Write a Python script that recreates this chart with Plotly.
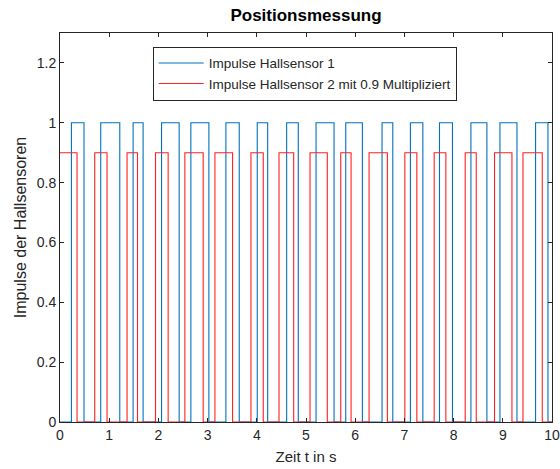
import plotly.graph_objects as go

# Switching times (s) of the sensor pulses
blue_edges = [0.232, 0.488, 0.828, 1.215, 1.486, 1.689, 2.064, 2.422, 2.660, 3.026,
              3.372, 3.643, 4.009, 4.221, 4.607, 4.843, 5.204, 5.570, 5.808, 6.146,
              6.546, 6.764, 7.122, 7.375, 7.713, 7.977, 8.352, 8.677, 8.942, 9.288,
              9.666, 9.918]
blue_start_level = 0
red_edges = [0.346, 0.706, 0.956, 1.363, 1.575, 1.941, 2.198, 2.538, 2.910, 3.149,
             3.508, 3.881, 4.131, 4.451, 4.750, 5.082, 5.433, 5.706, 5.916, 6.282,
             6.654, 7.009, 7.253, 7.605, 7.843, 8.236, 8.460, 8.832, 9.186, 9.410,
             9.802]
red_start_level = 1
red_factor = 0.9
t_start, t_end = 0, 10

x_ticks = [0, 1, 2, 3, 4, 5, 6, 7, 8, 9, 10]
y_ticks = [0, 0.2, 0.4, 0.6, 0.8, 1, 1.2]
y_tick_labels = ["0", "0.2", "0.4", "0.6", "0.8", "1", "1.2"]


def build_steps(edges, start_level):
    xs = [t_start]
    ys = [start_level]
    level = start_level
    for e in edges:
        level = 1 - level
        xs.append(e)
        ys.append(level)
    xs.append(t_end)
    ys.append(level)
    return xs, ys


bx, by = build_steps(blue_edges, blue_start_level)
rx, ry = build_steps(red_edges, red_start_level)
ry = [v * red_factor for v in ry]

fig = go.Figure()
fig.add_trace(go.Scatter(x=bx, y=by, mode="lines", line_shape="hv",
                         line=dict(color="#0072BD", width=1.1),
                         name="Impulse Hallsensor 1"))
fig.add_trace(go.Scatter(x=rx, y=ry, mode="lines", line_shape="hv",
                         line=dict(color="#FF2020", width=1.1),
                         name="Impulse Hallsensor 2 mit 0.9 Multipliziert"))

font_family = "Liberation Sans, Arial, sans-serif"
axis_col = "#262626"

W, H = 560, 469
fig.update_layout(
    width=W, height=H,
    margin=dict(l=60, r=8, t=33, b=47, autoexpand=False),
    paper_bgcolor="white", plot_bgcolor="white",
    font=dict(family=font_family, size=14, color=axis_col),
    title=dict(text="<b>Positionsmessung</b>", x=306 / W, xanchor="center",
               y=1 - 15.5 / H, yanchor="middle",
               font=dict(size=17, color="#000000")),
    showlegend=True,
    legend=dict(x=0.1884, y=0.9648, xanchor="left", yanchor="top",
                bgcolor="white", bordercolor="#262626", borderwidth=1,
                font=dict(size=13.5, color="#262626"),
                tracegroupgap=0, itemwidth=45),
)
fig.update_xaxes(range=[0, 10], tickvals=x_ticks, ticks="inside", ticklen=4,
                 tickcolor=axis_col, showline=True, linecolor=axis_col, linewidth=1,
                 mirror="ticks", showgrid=False, zeroline=False,
                 title=dict(text="Zeit t in s", font=dict(size=15), standoff=9),
                 tickfont=dict(size=14))
fig.update_yaxes(range=[0, 1.3], tickvals=y_ticks, ticktext=y_tick_labels,
                 ticks="inside", ticklen=4, tickcolor=axis_col, showline=True,
                 linecolor=axis_col, linewidth=1, mirror="ticks", showgrid=False,
                 zeroline=False,
                 title=dict(text="Impulse der Hallsensoren", font=dict(size=16), standoff=6),
                 tickfont=dict(size=14))

fig.write_html("out.html",
               config={"displayModeBar": False},
               post_script="document.body.style.margin='0';document.body.style.overflow='hidden';")
